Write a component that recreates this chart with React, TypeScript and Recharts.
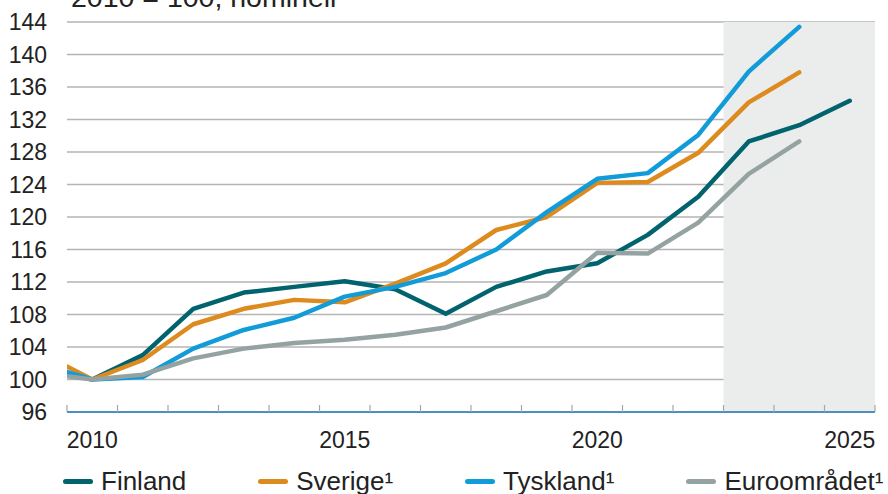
import React from "react";
import {
  LineChart,
  Line,
  XAxis,
  YAxis,
  CartesianGrid,
  ReferenceArea,
} from "recharts";

const years = [2009, 2010, 2011, 2012, 2013, 2014, 2015, 2016, 2017, 2018, 2019, 2020, 2021, 2022, 2023, 2024, 2025];
const finland = [101.5, 100, 103.0, 108.7, 110.7, 111.4, 112.1, 111.1, 108.1, 111.4, 113.3, 114.3, 117.8, 122.5, 129.3, 131.3, 134.3];
const sverige = [103.2, 100, 102.4, 106.8, 108.7, 109.8, 109.5, 111.8, 114.3, 118.4, 120.0, 124.2, 124.3, 127.9, 134.1, 137.8, null];
const tyskland = [101.8, 100, 100.3, 103.8, 106.1, 107.6, 110.2, 111.4, 113.1, 116.0, 120.6, 124.7, 125.4, 130.1, 137.9, 143.4, null];
const euro = [100.8, 100, 100.6, 102.6, 103.8, 104.5, 104.9, 105.5, 106.4, 108.4, 110.4, 115.6, 115.5, 119.3, 125.3, 129.3, null];

const yTicks = [96, 100, 104, 108, 112, 116, 120, 124, 128, 132, 136, 140, 144];
const labelYears = [2010, 2015, 2020, 2025];
const halfYearTicks = [2009.5, 2010.5, 2011.5, 2012.5, 2013.5, 2014.5, 2015.5, 2016.5, 2017.5, 2018.5, 2019.5, 2020.5, 2021.5, 2022.5, 2023.5, 2024.5, 2025.5];
const forecastStart = 2022.5;
const forecastEnd = 2025.5;

const series = [
  { key: "finland", name: "Finland", color: "#00636e" },
  { key: "sverige", name: "Sverige¹", color: "#dd8a1e" },
  { key: "tyskland", name: "Tyskland¹", color: "#119bd8" },
  { key: "euro", name: "Euroområdet¹", color: "#94a3a2" },
];

const data = years.map((year, i) => ({
  year,
  finland: finland[i],
  sverige: sverige[i],
  tyskland: tyskland[i],
  euro: euro[i],
}));

const allXTicks = [...halfYearTicks, ...labelYears].sort((a, b) => a - b);

const font = "Arial, 'Liberation Sans', Helvetica, sans-serif";

// half-year values get a small inward tick mark, whole years get a label
function XTick(props: any) {
  const { x, y, payload } = props;
  const v = payload.value;
  if (v % 1 !== 0) {
    return <line x1={x} x2={x} y1={y} y2={y - 7} stroke="#a6a6a6" strokeWidth={1.2} />;
  }
  return (
    <text x={x} y={y + 36} textAnchor="middle" fontSize={23} fill="#222" fontFamily={font}>
      {v}
    </text>
  );
}

export default function App() {
  return (
    <div style={{ position: "absolute", left: 0, top: 0, width: 888, height: 494, overflow: "hidden", background: "#fff", fontFamily: font }}>
      <div style={{ position: "absolute", left: 71, top: -17, fontSize: 28.5, lineHeight: "28px", color: "#222", whiteSpace: "nowrap" }}>
        2010 = 100, nominell
      </div>
      <LineChart width={888} height={494} data={data} margin={{ top: 22, right: 13, bottom: 42, left: 0 }}>
        <ReferenceArea x1={forecastStart} x2={forecastEnd} fill="#ebeded" fillOpacity={1} stroke="none" ifOverflow="hidden" />
        <CartesianGrid vertical={false} stroke="#b5b5b5" strokeWidth={1.5} />
        <XAxis
          dataKey="year"
          type="number"
          domain={[2009.5, 2025.5]}
          allowDataOverflow
          ticks={allXTicks}
          interval={0}
          tick={<XTick />}
          tickLine={false}
          tickSize={0}
          tickMargin={0}
          height={40}
          axisLine={{ stroke: "#4a91c2", strokeWidth: 2 }}
        />
        <YAxis
          domain={[96, 144]}
          ticks={yTicks}
          interval={0}
          width={67}
          tickLine={false}
          axisLine={false}
          tickMargin={14}
          tick={{ fontSize: 23, fill: "#222", fontFamily: font }}
        />
        {series.map((s) => (
          <Line
            key={s.key}
            dataKey={s.key}
            name={s.name}
            stroke={s.color}
            strokeWidth={4.5}
            strokeLinecap="round"
            strokeLinejoin="round"
            dot={false}
            activeDot={false}
            isAnimationActive={false}
          />
        ))}
      </LineChart>
      <div style={{ position: "absolute", left: 63, top: 464, display: "flex", gap: 72, fontSize: 26, lineHeight: "34px", color: "#222", whiteSpace: "nowrap" }}>
        {series.map((s) => (
          <div key={s.key} style={{ display: "flex", alignItems: "center", gap: 8 }}>
            <span style={{ display: "inline-block", width: 30, height: 5, borderRadius: 3, background: s.color }} />
            <span>{s.name}</span>
          </div>
        ))}
      </div>
    </div>
  );
}
